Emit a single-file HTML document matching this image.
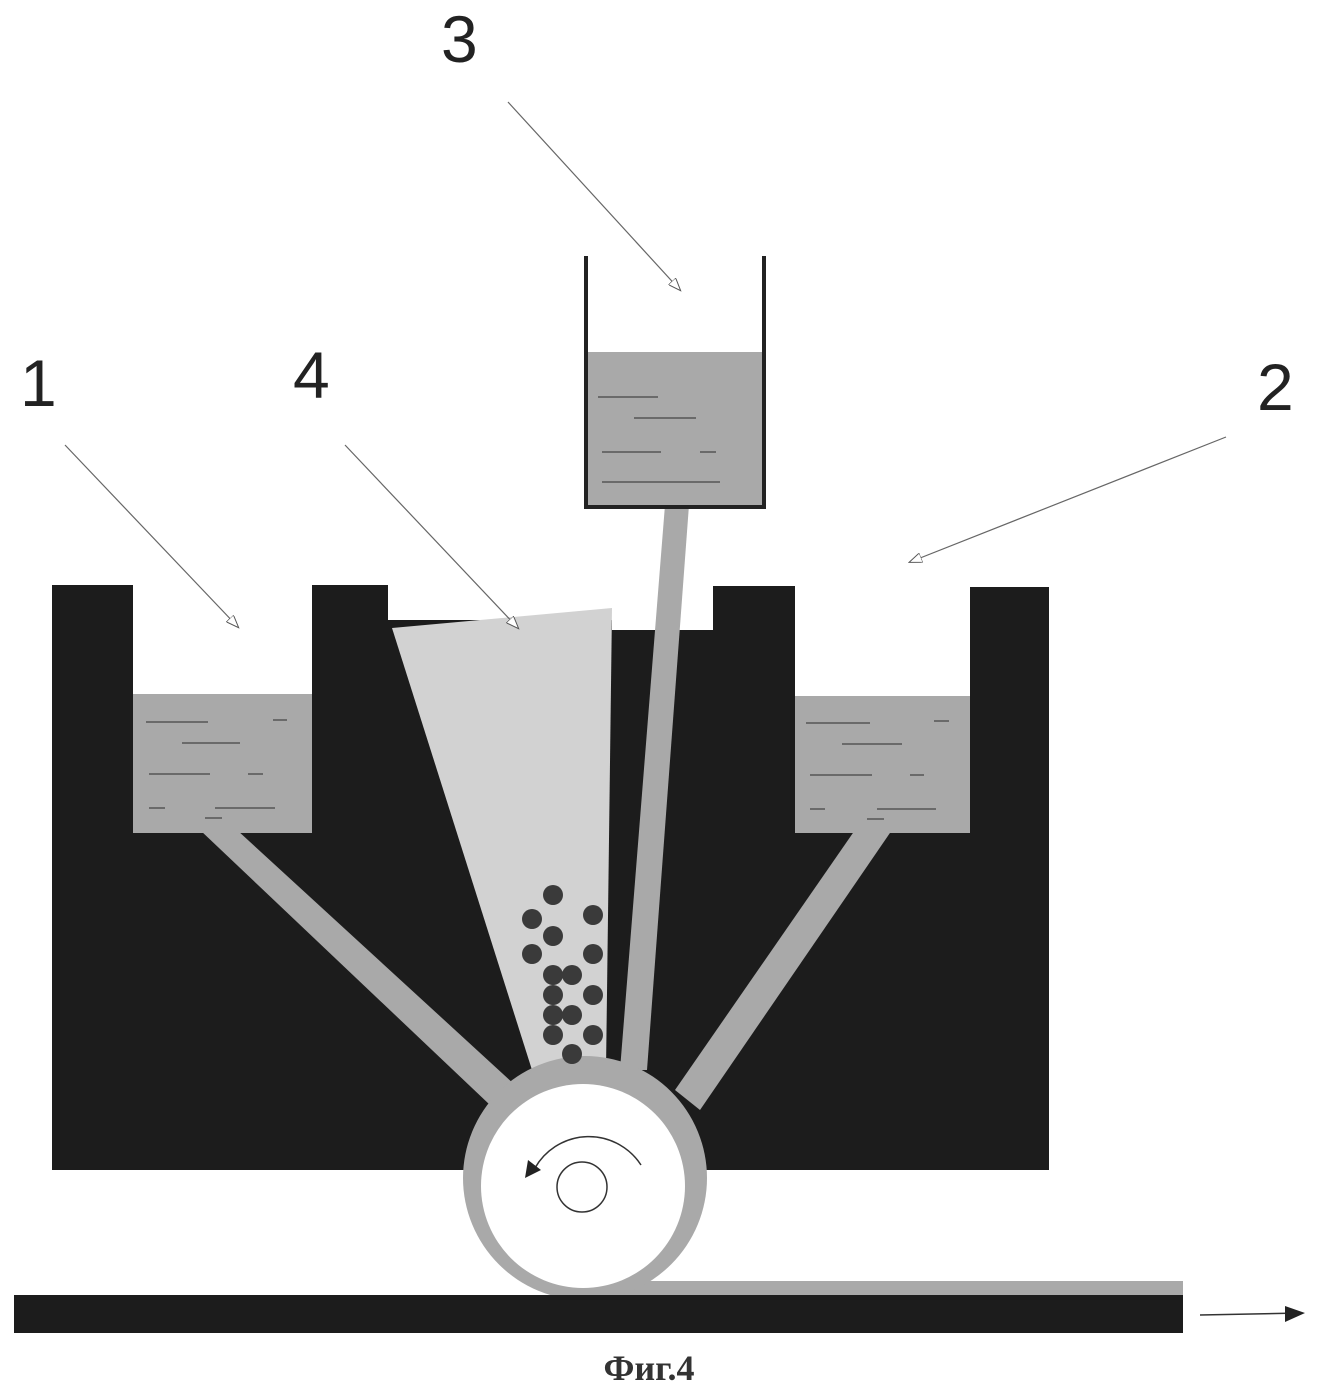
<!DOCTYPE html>
<html><head><meta charset="utf-8"><style>html,body{margin:0;padding:0;background:#fff}svg{display:block}</style></head>
<body>
<svg width="1318" height="1392" viewBox="0 0 1318 1392" xmlns="http://www.w3.org/2000/svg">
<defs>
<marker id="oa" markerWidth="14" markerHeight="10" refX="12" refY="5" orient="auto" markerUnits="userSpaceOnUse">
<path d="M0,0 L13,5 L0,10 Z" fill="#fff" stroke="#555" stroke-width="1"/></marker>
</defs>
<path d="M52,585 H133 V833 H312 V585 H388 V1170 H52 Z" fill="#1c1c1c"/>
<path d="M388,620 H612 V630 H713 V586 H795 V833 H970 V587 H1049 V1170 H388 Z" fill="#1c1c1c"/>
<rect x="133" y="585" width="179" height="110" fill="#fff"/>
<rect x="133" y="694" width="179" height="139" fill="#a9a9a9"/>
<rect x="795" y="586" width="175" height="110" fill="#fff"/>
<rect x="795" y="696" width="175" height="137" fill="#a9a9a9"/>
<polygon points="388,580 612,580 612,620 388,620" fill="#fff"/>
<polygon points="392,628 612,608 606,1070 532,1070" fill="#d2d2d2"/>
<polygon points="200,830 237,830 515,1085 490,1105" fill="#a9a9a9"/>
<polygon points="855,830 892,830 700,1110 675,1090" fill="#a9a9a9"/>
<polygon points="665,505 689,505 647,1070 620,1070" fill="#a9a9a9"/>
<rect x="585" y="1281" width="598" height="15" fill="#a9a9a9"/>
<circle cx="585" cy="1178" r="122" fill="#a9a9a9"/>
<circle cx="583" cy="1186" r="102" fill="#fff"/>
<circle cx="582" cy="1187" r="25" fill="none" stroke="#333" stroke-width="1.5"/>
<path d="M641,1165 A62,62 0 0 0 535,1168" fill="none" stroke="#333" stroke-width="1.5"/>
<polygon points="525,1178 528,1160 541,1170" fill="#222"/>
<g fill="#3a3a3a">
<circle cx="553" cy="895" r="10"/><circle cx="532" cy="919" r="10"/><circle cx="593" cy="915" r="10"/>
<circle cx="553" cy="936" r="10"/><circle cx="532" cy="954" r="10"/><circle cx="593" cy="954" r="10"/>
<circle cx="553" cy="975" r="10"/><circle cx="572" cy="975" r="10"/><circle cx="553" cy="995" r="10"/>
<circle cx="593" cy="995" r="10"/><circle cx="553" cy="1015" r="10"/><circle cx="572" cy="1015" r="10"/>
<circle cx="553" cy="1035" r="10"/><circle cx="593" cy="1035" r="10"/><circle cx="572" cy="1054" r="10"/>
</g>
<rect x="14" y="1295" width="1169" height="38" fill="#1c1c1c"/>
<line x1="1200" y1="1315" x2="1300" y2="1313" stroke="#333" stroke-width="1.5"/>
<polygon points="1285,1306 1305,1313 1285,1322" fill="#222"/>
<rect x="587" y="352" width="176" height="154" fill="#a9a9a9"/>
<path d="M586,256 V507 H764 V256" fill="none" stroke="#222" stroke-width="4"/>
<g stroke="#555" stroke-width="1.5">
<line x1="146" y1="722" x2="208" y2="722"/><line x1="273" y1="720" x2="287" y2="720"/>
<line x1="182" y1="743" x2="240" y2="743"/><line x1="149" y1="774" x2="210" y2="774"/>
<line x1="248" y1="774" x2="263" y2="774"/><line x1="149" y1="808" x2="165" y2="808"/>
<line x1="215" y1="808" x2="275" y2="808"/><line x1="205" y1="818" x2="222" y2="818"/>
<line x1="806" y1="723" x2="870" y2="723"/><line x1="934" y1="721" x2="949" y2="721"/>
<line x1="842" y1="744" x2="902" y2="744"/><line x1="810" y1="775" x2="872" y2="775"/>
<line x1="910" y1="775" x2="924" y2="775"/><line x1="810" y1="809" x2="825" y2="809"/>
<line x1="877" y1="809" x2="936" y2="809"/><line x1="867" y1="819" x2="884" y2="819"/>
<line x1="598" y1="397" x2="658" y2="397"/><line x1="634" y1="418" x2="696" y2="418"/>
<line x1="602" y1="452" x2="661" y2="452"/><line x1="700" y1="452" x2="716" y2="452"/>
<line x1="602" y1="482" x2="720" y2="482"/>
</g>
<g stroke="#666" stroke-width="1.2" fill="none">
<line x1="65" y1="445" x2="238" y2="627" marker-end="url(#oa)"/>
<line x1="345" y1="445" x2="518" y2="628" marker-end="url(#oa)"/>
<line x1="508" y1="102" x2="680" y2="290" marker-end="url(#oa)"/>
<line x1="1226" y1="437" x2="910" y2="562" marker-end="url(#oa)"/>
</g>
<g font-family="Liberation Sans, sans-serif" font-size="66" fill="#222">
<text x="441" y="62">3</text>
<text x="20" y="406">1</text>
<text x="293" y="398">4</text>
<text x="1257" y="410">2</text>
</g>
<text x="649" y="1380" text-anchor="middle" font-family="Liberation Serif, serif" font-weight="bold" font-size="36" fill="#333">Фиг.4</text>
</svg>
</body></html>
